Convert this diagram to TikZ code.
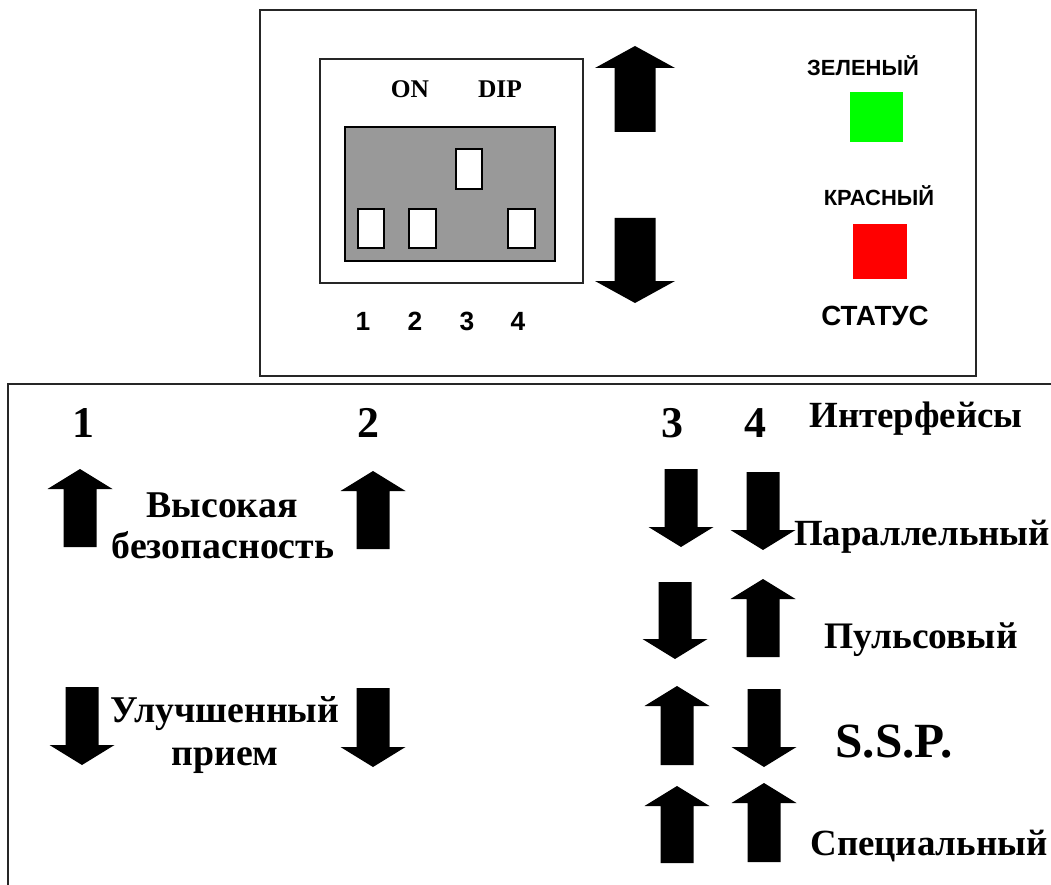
\documentclass[tikz,border=0pt]{standalone}
\usepackage{fontspec}
\setmainfont{Liberation Serif}
\newfontfamily\arialfont{Liberation Sans}
\usetikzlibrary{positioning}
\tikzstyle{frame}=[draw=black!85, line width=1pt]
\tikzstyle{key}=[draw=black, line width=0.9pt, fill=white]
\tikzstyle{lbl}=[inner sep=0pt, anchor=base, font=\bfseries]
\tikzstyle{sans}=[lbl, font=\arialfont\bfseries]
\def\hw{32.5}\def\sw{16.5}\def\hl{20}
\newcommand{\arrUp}[3]{\fill (#1,#2) -- (#1+\hw,#2+\hl) -- (#1+\sw,#2+\hl) -- (#1+\sw,#3) -- (#1-\sw,#3) -- (#1-\sw,#2+\hl) -- (#1-\hw,#2+\hl) -- cycle;}
\newcommand{\arrDown}[3]{\fill (#1,#3) -- (#1+\hw,#3-\hl) -- (#1+\sw,#3-\hl) -- (#1+\sw,#2) -- (#1-\sw,#2) -- (#1-\sw,#3-\hl) -- (#1-\hw,#3-\hl) -- cycle;}
\begin{document}
\begin{tikzpicture}[x=0.02cm, y=-0.02cm]
\useasboundingbox (0,0) rectangle (1051,885);
% panel
\draw [frame] (260,10) rectangle (976,376);
\draw [frame] (320,59) rectangle (583,283);
\draw [draw=black, line width=0.9pt, fill=black!40] (345,127) rectangle (555,261);
\draw [key] (358,209) rectangle (384,248) (409,209) rectangle (436,248) (456,149) rectangle (482,189) (508,209) rectangle (535,248);
\node [lbl, font=\bfseries\fontsize{14.5}{14.5}\selectfont] (on) at (410,98) {ON};
\node [lbl, font=\bfseries\fontsize{14.5}{14.5}\selectfont] (dip) at (500,98) {DIP};
\foreach \x/\n in {363/1, 415/2, 467/3, 518/4}
  \node [sans, font=\arialfont\bfseries\fontsize{15}{15}\selectfont] (k\n) at (\x,330) {\n};
\begin{scope}
\def\hw{40}\def\sw{20.5}\def\hl{22}
\arrUp{635}{46}{132}
\arrDown{635}{218}{303}
\end{scope}
\node [sans, font=\arialfont\bfseries\fontsize{12.5}{12.5}\selectfont] (green) at (863,76) {ЗЕЛЕНЫЙ};
\fill [green] (850,92) rectangle (903,142);
\node [sans, font=\arialfont\bfseries\fontsize{12.5}{12.5}\selectfont] (red) at (879,206) {КРАСНЫЙ};
\fill [red] (853,224) rectangle (907,279);
\node [sans, font=\arialfont\bfseries\fontsize{15.8}{15.8}\selectfont] (status) at (875,325) {СТАТУС};
% legend
\draw [frame] (1051,384) -- (8,384) -- (8,885);
\foreach \x/\n in {83/1, 368/2, 672/3, 755/4}
  \node [lbl, font=\bfseries\fontsize{25}{25}\selectfont] (s\n) at (\x,437) {\n};
\node [lbl, font=\bfseries\fontsize{21}{21}\selectfont] (intf) at (916,427) {Интерфейсы};
\arrUp{80}{469}{547} \arrUp{373}{471}{549}
\node [lbl, font=\bfseries\fontsize{21.5}{21.5}\selectfont] (high) at (222,517) {Высокая};
\node [lbl, font=\bfseries\fontsize{21.5}{21.5}\selectfont] (high2) at (223,558) {безопасность};
\arrDown{82}{687}{765} \arrDown{373}{688}{767}
\node [lbl, font=\bfseries\fontsize{21.5}{21.5}\selectfont] (impr) at (225,722) {Улучшенный};
\node [lbl, font=\bfseries\fontsize{21.5}{21.5}\selectfont] (impr2) at (225,765) {прием};
\arrDown{681}{469}{547} \arrDown{763}{472}{550}
\node [lbl, font=\bfseries\fontsize{21}{21}\selectfont] (par) at (922,545) {Параллельный};
\arrDown{675}{582}{659} \arrUp{763}{579}{657}
\node [lbl, font=\bfseries\fontsize{21.3}{21.3}\selectfont] (pulse) at (921,648) {Пульсовый};
\arrUp{677}{686}{765} \arrDown{764}{689}{767}
\node [lbl, font=\bfseries\fontsize{28}{28}\selectfont] (ssp) at (894,757) {S.S.P.};
\arrUp{677}{786}{863} \arrUp{764}{783}{862}
\node [lbl, font=\bfseries\fontsize{21}{21}\selectfont] (spec) at (929,855) {Специальный};
\end{tikzpicture}
\end{document}
